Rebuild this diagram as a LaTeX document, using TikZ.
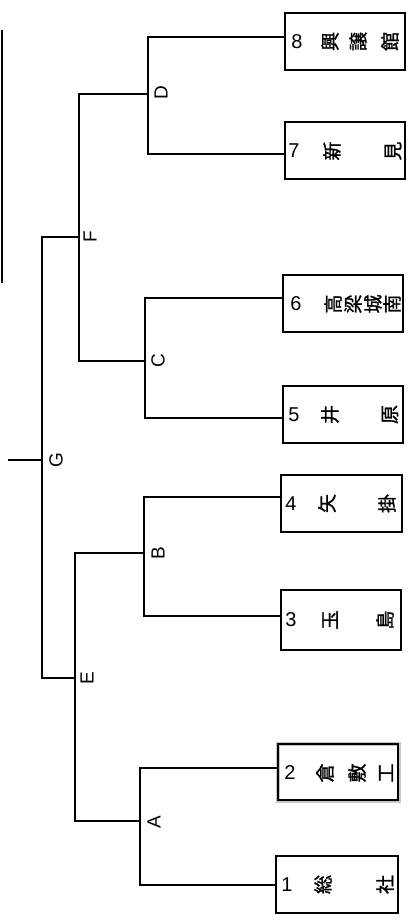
\documentclass[tikz,border=0pt]{standalone}
\usepackage{fontspec}
\setmainfont{Liberation Sans}
\newfontfamily\jp[FakeBold=1.2]{Noto Sans CJK JP}
\begin{document}
\begin{tikzpicture}[x=1pt,y=-1pt,
  ln/.style={line width=1.3pt, black},
  team/.style={draw, line width=1.3pt, inner sep=0pt, fill=white},
  num/.style={font=\fontsize{20}{20}\selectfont, inner sep=0pt},
  kj/.style={font=\jp\fontsize{19}{19}\selectfont, rotate=90, inner sep=0pt},
  lbl/.style={font=\fontsize{19}{19}\selectfont, rotate=90, inner sep=0pt}]
\useasboundingbox (0,0) rectangle (414,923);
\fill[white] (0,0) rectangle (414,923);

% left edge line
\coordinate (edgeT) at (2,30);
\coordinate (edgeB) at (2,283);
\draw[ln] (edgeT) -- (edgeB);

% team boxes
\node[team, minimum width=120pt, minimum height=57pt] (t8) at (345,41.5) {};
\node[team, minimum width=120pt, minimum height=57pt] (t7) at (345,150.5) {};
\node[team, minimum width=120pt, minimum height=57pt] (t6) at (343,303.5) {};
\node[team, minimum width=120pt, minimum height=57pt] (t5) at (343,414.5) {};
\node[team, minimum width=121pt, minimum height=57pt] (t4) at (341.5,503.5) {};
\node[team, minimum width=120pt, minimum height=60pt] (t3) at (341,620) {};
\node[draw=gray!45, line width=4pt, minimum width=121pt, minimum height=57pt, inner sep=0pt] (t2g) at (338,772) {};
\node[team, fill=none, minimum width=120pt, minimum height=56pt] (t2) at (338,772) {};
\node[team, minimum width=122pt, minimum height=57pt] (t1) at (337,884.5) {};

% texts
\node[num] (n1) at (287,884.5) {1};
\node[kj] (k1a) at (323,884.5) {総};
\node[kj] (k1b) at (385,884.5) {社};

\node[num] (n2) at (290,773) {2};
\node[kj] (k2a) at (325,773) {倉};
\node[kj] (k2b) at (357,773) {敷};
\node[kj] (k2c) at (386,773) {工};

\node[num] (n3) at (291,620) {3};
\node[kj] (k3a) at (330,620) {玉};
\node[kj] (k3b) at (385,620) {島};

\node[num] (n4) at (291,503.5) {4};
\node[kj] (k4a) at (327,503.5) {矢};
\node[kj] (k4b) at (387,503.5) {掛};

\node[num] (n5) at (294,414.5) {5};
\node[kj] (k5a) at (330,414.5) {井};
\node[kj] (k5b) at (390,414.5) {原};

\node[num] (n6) at (296,304) {6};
\node[kj] (k6a) at (333,304) {高};
\node[kj] (k6b) at (353,304) {梁};
\node[kj] (k6c) at (373,304) {城};
\node[kj] (k6d) at (392,304) {南};

\node[num] (n7) at (294,151) {7};
\node[kj] (k7a) at (332,151) {新};
\node[kj] (k7b) at (393,151) {見};

\node[num] (n8) at (297,41.5) {8};
\node[kj] (k8a) at (330,41.5) {興};
\node[kj] (k8b) at (358,41.5) {譲};
\node[kj] (k8c) at (390,41.5) {館};

% bracket coordinates
\coordinate (Dt) at (148,37);  \coordinate (Db) at (148,154); \coordinate (Do) at (148,94);
\coordinate (Ct) at (145,298); \coordinate (Cb) at (145,418); \coordinate (Co) at (145,361);
\coordinate (Ft) at (79,94);   \coordinate (Fb) at (79,361);  \coordinate (Fo) at (79,237);
\coordinate (Bt) at (144,497); \coordinate (Bb) at (144,616); \coordinate (Bo) at (144,553);
\coordinate (At) at (140,768); \coordinate (Ab) at (140,885); \coordinate (Ao) at (140,821);
\coordinate (Et) at (75,553);  \coordinate (Eb) at (75,821);  \coordinate (Eo) at (75,678);
\coordinate (Gt) at (42,237);  \coordinate (Gb) at (42,678);  \coordinate (Go) at (42,460);
\coordinate (win) at (8,460);

% matches
\draw[ln] (t8.west |- Dt) -- (Dt) -- (Db) -- (t7.west |- Db);
\draw[ln] (t6.west |- Ct) -- (Ct) -- (Cb) -- (t5.west |- Cb);
\draw[ln] (t4.west |- Bt) -- (Bt) -- (Bb) -- (t3.west |- Bb);
\draw[ln] (t2.west |- At) -- (At) -- (Ab) -- (t1.west |- Ab);
\draw[ln] (Do) -- (Ft) -- (Fb) -- (Co);
\draw[ln] (Bo) -- (Et) -- (Eb) -- (Ao);
\draw[ln] (Fo) -- (Gt) -- (Gb) -- (Eo);
\draw[ln] (Go) -- (win);

% labels
\node[lbl] (lD) at (161,93) {D};
\node[lbl] (lC) at (158,361) {C};
\node[lbl] (lB) at (158,553) {B};
\node[lbl] (lA) at (154,822) {A};
\node[lbl] (lF) at (90,237) {F};
\node[lbl] (lE) at (87,678) {E};
\node[lbl] (lG) at (56,460) {G};
\end{tikzpicture}
\end{document}
